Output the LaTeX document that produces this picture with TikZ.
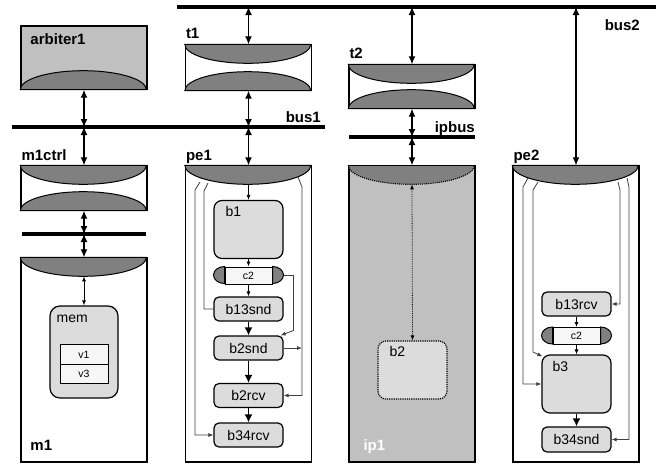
\documentclass[tikz,border=0pt]{standalone}
\usepackage{fontspec}
\setmainfont{Liberation Sans}
\usetikzlibrary{arrows.meta,positioning}

\definecolor{lensgray}{HTML}{808080}
\definecolor{boxgray}{HTML}{C0C0C0}
\definecolor{blockgray}{HTML}{DCDCDC}
\definecolor{chanwhite}{HTML}{F6F6F6}
\definecolor{wiregray}{HTML}{404040}

\begin{document}
\begin{tikzpicture}[x=1pt,y=-1pt,
    unit/.style={draw,fill=white,line width=1.4pt,minimum width=126pt,inner sep=0pt},
    lens/.style={fill=lensgray,draw,line width=1pt},
    block/.style={draw,line width=1.2pt,fill=blockgray,rounded corners=5pt,minimum width=69pt,
        minimum height=24pt,inner sep=0pt,font=\fontsize{14}{16}\selectfont},
    bigblock/.style={block,rounded corners=8pt,minimum height=58pt},
    chan/.style={draw,line width=1pt,fill=chanwhite,minimum width=47pt,minimum height=17pt,
        inner sep=0pt,font=\fontsize{10.5}{12}\selectfont},
    cell/.style={draw,line width=0.8pt,fill=chanwhite,minimum width=48pt,minimum height=19.5pt,
        inner sep=0pt,outer sep=0pt,font=\fontsize{10.5}{12}\selectfont},
    tag/.style={font=\fontsize{15}{18}\selectfont\bfseries,inner sep=0pt},
    blocktag/.style={font=\fontsize{14}{16}\selectfont,inner sep=0pt},
    bus/.style={line width=4pt},
    busarrow/.style={line width=1.3pt,{Latex[length=8pt,width=7pt]}-{Latex[length=8pt,width=7pt]}},
    flow/.style={line width=0.8pt,-{Latex[length=5pt,width=4pt]}},
    biflow/.style={line width=0.8pt,{Latex[length=5pt,width=4pt]}-{Latex[length=5pt,width=4pt]}},
    bigflow/.style={line width=1.5pt,-{Latex[length=8pt,width=8pt]}},
    wire/.style={wiregray,line width=0.8pt},
    tip/.style={-{Latex[length=5pt,width=4pt]}},
]
\useasboundingbox (0,0) rectangle (656,464);

% Components
\node[unit,fill=boxgray,minimum height=63pt] (arbiter1) at (84,57.5) {};
\node[unit,minimum height=45pt] (t1) at (248.5,67.5) {};
\node[unit,minimum height=44pt] (m1ctrl) at (84,188) {};
\node[unit,minimum height=204pt] (m1) at (84,360) {};
\node[unit,minimum height=296pt] (pe1) at (248.5,314) {};
\node[unit,minimum height=43pt] (t2) at (412,86.5) {};
\node[unit,fill=boxgray,minimum height=296pt] (ip1) at (412,314) {};
\node[unit,minimum height=296pt] (pe2) at (576,314) {};

% Lenses
\foreach \u in {t1,t2,m1ctrl,m1,pe1,pe2}
    \filldraw[lens] (\u.north west) arc[start angle=180,end angle=360,x radius=63pt,y radius=19pt] -- cycle;
\foreach \u in {arbiter1,t1,t2,m1ctrl}
    \filldraw[lens] (\u.south west) arc[start angle=180,end angle=0,x radius=63pt,y radius=19pt] -- cycle;
\fill[lensgray] (ip1.north west) arc[start angle=180,end angle=360,x radius=63pt,y radius=19pt] -- cycle;
\draw[densely dotted,line width=1.1pt] (ip1.north west) arc[start angle=180,end angle=360,x radius=63pt,y radius=19pt];
\draw[line width=1.4pt] (ip1.north west) -- (ip1.north east);

% Labels
\node[tag,anchor=base west] (arbiter1-lbl) at ([shift={(10,19)}]arbiter1.north west) {arbiter1};
\node[tag,anchor=base west] (t1-lbl) at ([shift={(1,-6)}]t1.north west) {t1};
\node[tag,anchor=base west] (t2-lbl) at ([shift={(1,-6)}]t2.north west) {t2};
\node[tag,anchor=base west] (m1ctrl-lbl) at ([shift={(1,-5)}]m1ctrl.north west) {m1ctrl};
\node[tag,anchor=base west] (pe1-lbl) at ([shift={(1,-5)}]pe1.north west) {pe1};
\node[tag,anchor=base west] (pe2-lbl) at ([shift={(1,-5)}]pe2.north west) {pe2};
\node[tag,anchor=base west] (m1-lbl) at ([shift={(10,-12)}]m1.south west) {m1};
\node[tag,anchor=base west,white] (ip1-lbl) at ([shift={(15,-12)}]ip1.south west) {ip1};

% Buses
\coordinate (bus2-w) at (177,7);
\coordinate (bus2-e) at (656,7);
\coordinate (bus1-w) at (12,127);
\coordinate (bus1-e) at (325,127);
\coordinate (ipbus-w) at (349,137);
\coordinate (ipbus-e) at (475,137);
\coordinate (m1bus-w) at (22,234);
\coordinate (m1bus-e) at (146,234);

\draw[busarrow] (arbiter1.south) -- (arbiter1.south |- bus1-w);
\draw[busarrow] (m1ctrl.north |- bus1-w) -- (m1ctrl.north);
\draw[busarrow] (t1.north |- bus2-w) -- (t1.north);
\draw[busarrow] (t1.south) -- (t1.south |- bus1-w);
\draw[busarrow] (pe1.north |- bus1-w) -- (pe1.north);
\draw[busarrow] (t2.north |- bus2-w) -- (t2.north);
\draw[busarrow] (t2.south) -- (t2.south |- ipbus-w);
\draw[busarrow] (ip1.north |- ipbus-w) -- (ip1.north);
\draw[busarrow] (pe2.north |- bus2-w) -- (pe2.north);
\draw[busarrow] (m1ctrl.south) -- (m1ctrl.south |- m1bus-w);
\draw[busarrow] (m1.north |- m1bus-w) -- (m1.north);

\draw[bus] (bus2-w) -- (bus2-e);
\draw[bus] (bus1-w) -- (bus1-e);
\draw[bus] (ipbus-w) -- (ipbus-e);
\draw[bus] (m1bus-w) -- (m1bus-e);
\node[tag,anchor=base east] (bus2-lbl) at (640,30) {bus2};
\node[tag,anchor=base east] (bus1-lbl) at (321,122) {bus1};
\node[tag,anchor=base east] (ipbus-lbl) at (475,132) {ipbus};

% m1
\node[draw,line width=1.2pt,fill=blockgray,rounded corners=10pt,minimum width=68pt,minimum height=92pt] (mem) at (84,352) {};
\node[blocktag,anchor=base west] (mem-lbl) at ([shift={(7,17)}]mem.north west) {mem};
\node[cell] (v1) at (84,354.5) {v1};
\node[cell,below=0pt of v1] (v3) {v3};
\coordinate (m1-lens) at ([yshift=-19pt]m1.north);
\draw[biflow] (m1-lens) -- (mem.north);

% pe1
\node[bigblock] (b1) at (248.5,229.5) {};
\node[blocktag,anchor=base west] (b1-lbl) at ([shift={(12,17)}]b1.north west) {b1};
\node[chan] (pe1-c2) at (248.5,275.5) {c2};
\node[block] (b13snd) at (248.5,309) {b13snd};
\node[block] (b2snd) at (248.5,348) {b2snd};
\node[block] (b2rcv) at (248.5,395.5) {b2rcv};
\node[block] (b34rcv) at (248.5,435) {b34rcv};

\coordinate (pe1-lens) at ([yshift=-19pt]pe1.north);
\draw[flow] (pe1-lens) -- (b1.north);
\draw[flow] (b1.south) -- (pe1-c2.north);
\draw[flow] (pe1-c2.south) -- (b13snd.north);
\draw[bigflow] (b13snd) -- (b2snd);
\draw[bigflow] (b2snd) -- (b2rcv);
\draw[bigflow] (b2rcv) -- (b34rcv);

\coordinate (pe1-w1) at (200,182);
\coordinate (pe1-w2) at (208,183);
\coordinate (pe1-w3) at (298,177);
\coordinate (pe1-rail) at (302,187);
\draw[wire,tip] (pe1-w1) -- ++(-5,8) |- (b34rcv.west);
\draw[wire] (pe1-w2) -- ++(-4,8) |- (b13snd.west);
\draw[wire,tip] (pe1-w3) -- (pe1-rail) |- (b2rcv.east);
\draw[wire,tip] (b2snd.east) -- (b2snd.east -| pe1-rail);
\draw[wire,tip] ([xshift=11pt]pe1-c2.east) -- ++(10,0) -- ++(0,55) -- ([xshift=-3pt]b2snd.north east);

% ip1
\node[bigblock,densely dotted] (b2) at (412.5,370) {};
\node[blocktag,anchor=base west] (b2-lbl) at ([shift={(12,16)}]b2.north west) {b2};
\coordinate (ip1-lens) at ([yshift=-19pt]ip1.north);
\draw[biflow,densely dotted] (ip1-lens) -- (b2.north);

% pe2
\node[block] (b13rcv) at (576.5,304) {b13rcv};
\node[chan] (pe2-c2) at (576.5,336) {c2};
\node[bigblock] (b3) at (576.5,384) {};
\node[blocktag,anchor=base west] (b3-lbl) at ([shift={(11,17)}]b3.north west) {b3};
\node[block,minimum height=25pt] (b34snd) at (576.5,439.5) {b34snd};

\draw[flow] (b13rcv.south) -- (pe2-c2.north);
\draw[flow] (pe2-c2.south) -- (b3.north);
\draw[bigflow] (b3) -- (b34snd);

\coordinate (pe2-w1) at (528,178);
\coordinate (pe2-w2) at (538,182);
\coordinate (pe2-w3) at (618,182);
\coordinate (pe2-w4) at (627,178);
\draw[wire,tip] (pe2-w1) -- ++(-5,9) |- (b3.west);
\draw[wire,tip] (pe2-w2) -- ++(-5,8) -- ++(0,162) -- ([shift={(1,2)}]b3.north west);
\draw[wire,tip] (pe2-w3) -- ++(2,8) |- (b13rcv.east);
\draw[wire,tip] (pe2-w4) -- ++(2,9) |- (b34snd.east);

% Channel caps
\foreach \c in {pe1-c2,pe2-c2} {
    \filldraw[lens] (\c.north west) arc[start angle=90,end angle=270,x radius=11pt,y radius=8.5pt] -- cycle;
    \filldraw[lens] (\c.north east) arc[start angle=90,end angle=-90,x radius=11pt,y radius=8.5pt] -- cycle;
}
\end{tikzpicture}
\end{document}
